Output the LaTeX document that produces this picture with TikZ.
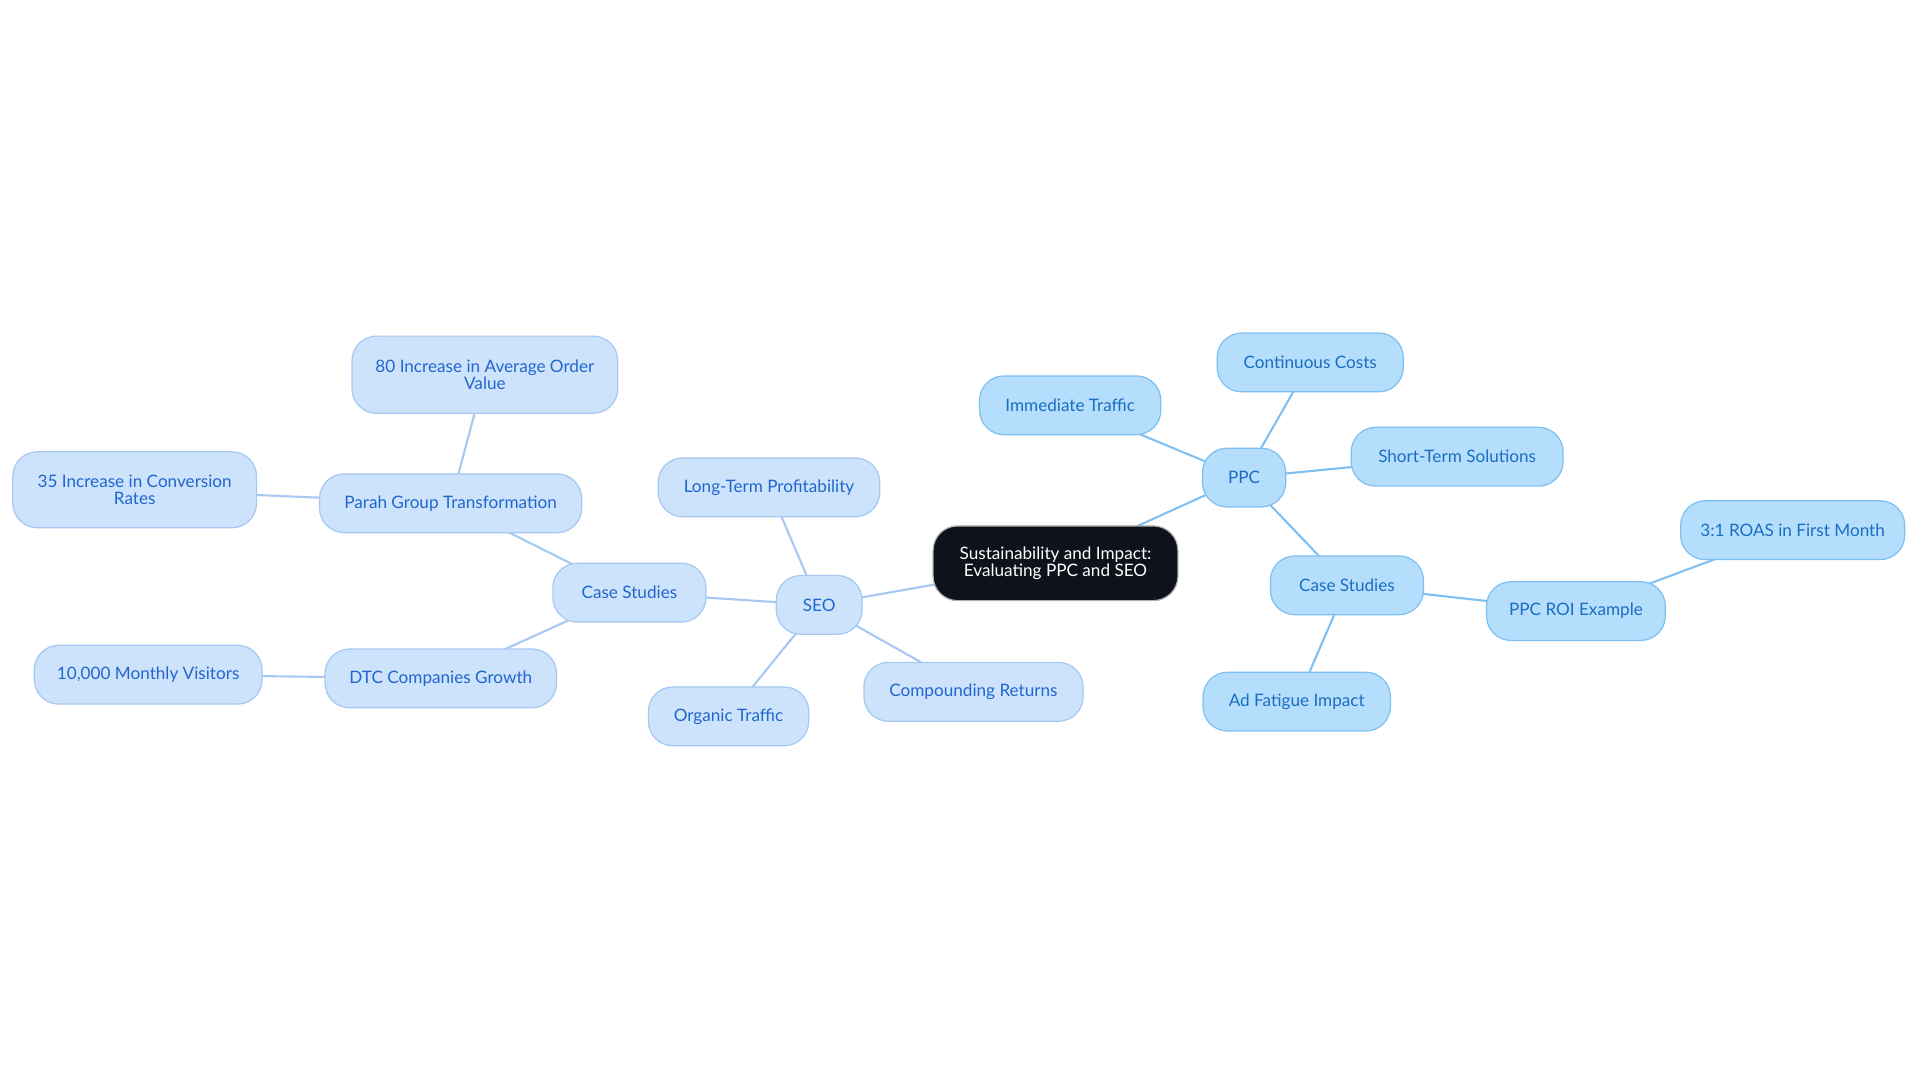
\documentclass[tikz,border=0pt]{standalone}
\usepackage{fontspec}
\setmainfont{Lato}
\usetikzlibrary{backgrounds}
\definecolor{seofill}{HTML}{CDE3FB}
\definecolor{seoline}{HTML}{A6C8F2}
\definecolor{seotext}{HTML}{2166CF}
\definecolor{ppcfill}{HTML}{B4DEFC}
\definecolor{ppcline}{HTML}{7EC0F2}
\definecolor{ppctext}{HTML}{1A6EC2}
\definecolor{rootfill}{HTML}{0D121B}
\tikzset{
  base/.style={rounded corners=20pt, line width=1pt, align=center, inner sep=2pt,
    font=\fontsize{14}{14.5}\selectfont, minimum height=48pt},
  seo/.style={base, fill=seofill, draw=seoline, text=seotext},
  ppc/.style={base, fill=ppcfill, draw=ppcline, text=ppctext},
  root/.style={base, fill=rootfill, draw=gray!60, text=white, minimum height=61pt, minimum width=200pt},
  seoedge/.style={draw=seoline, line width=1.7pt},
  ppcedge/.style={draw=ppcline, line width=1.7pt}
}
\begin{document}
\begin{tikzpicture}[x=1pt,y=-1pt]
\useasboundingbox (0,0) rectangle (1568,884);
\node[root] (root) at (862,460) {Sustainability and Impact:\\Evaluating PPC and SEO};
% PPC
\node[ppc, minimum width=68pt] (ppc) at (1016,390) {PPC};
\node[ppc, minimum width=148pt] (imm) at (874,331) {Immediate Traffic};
\node[ppc, minimum width=152pt] (cont) at (1070,296) {Continuous Costs};
\node[ppc, minimum width=173pt] (short) at (1190,373) {Short-Term Solutions};
\node[ppc, minimum width=125pt] (pcase) at (1100,478) {Case Studies};
\node[ppc, minimum width=146pt] (roi) at (1287,499) {PPC ROI Example};
\node[ppc, minimum width=183pt] (roas) at (1464,433) {3:1 ROAS in First Month};
\node[ppc, minimum width=153pt] (fat) at (1059,573) {Ad Fatigue Impact};
% SEO
\node[seo, minimum width=70pt] (seo) at (669,494) {SEO};
\node[seo, minimum width=181pt] (ltp) at (628,398) {Long-Term Profitability};
\node[seo, minimum width=179pt] (comp) at (795,565) {Compounding Returns};
\node[seo, minimum width=131pt] (org) at (595,585) {Organic Traffic};
\node[seo, minimum width=125pt] (scase) at (514,484) {Case Studies};
\node[seo, minimum width=214pt] (parah) at (368,411) {Parah Group Transformation};
\node[seo, minimum width=189pt] (dtc) at (360,554) {DTC Companies Growth};
\node[seo, minimum width=217pt, minimum height=63pt] (aov) at (396,306) {80 Increase in Average Order\\Value};
\node[seo, minimum width=199pt, minimum height=62pt] (conv) at (110,400) {35 Increase in Conversion\\Rates};
\node[seo, minimum width=186pt] (vis) at (121,551) {10,000 Monthly Visitors};
\begin{scope}[on background layer]
\fill[white] (0,0) rectangle (1568,884);
\draw[ppcedge] (root.center) -- (ppc.center);
\draw[ppcedge] (ppc.center) -- (imm.center);
\draw[ppcedge] (ppc.center) -- (cont.center);
\draw[ppcedge] (ppc.center) -- (short.center);
\draw[ppcedge] (ppc.center) -- (pcase.center);
\draw[ppcedge] (pcase.center) -- (roi.center);
\draw[ppcedge] (roi.center) -- (roas.center);
\draw[ppcedge] (pcase.center) -- (fat.center);
\draw[seoedge] (root.center) -- (seo.center);
\draw[seoedge] (seo.center) -- (ltp.center);
\draw[seoedge] (seo.center) -- (comp.center);
\draw[seoedge] (seo.center) -- (org.center);
\draw[seoedge] (seo.center) -- (scase.center);
\draw[seoedge] (scase.center) -- (parah.center);
\draw[seoedge] (scase.center) -- (dtc.center);
\draw[seoedge] (parah.center) -- (aov.center);
\draw[seoedge] (parah.center) -- (conv.center);
\draw[seoedge] (dtc.center) -- (vis.center);
\end{scope}
\end{tikzpicture}
\end{document}
